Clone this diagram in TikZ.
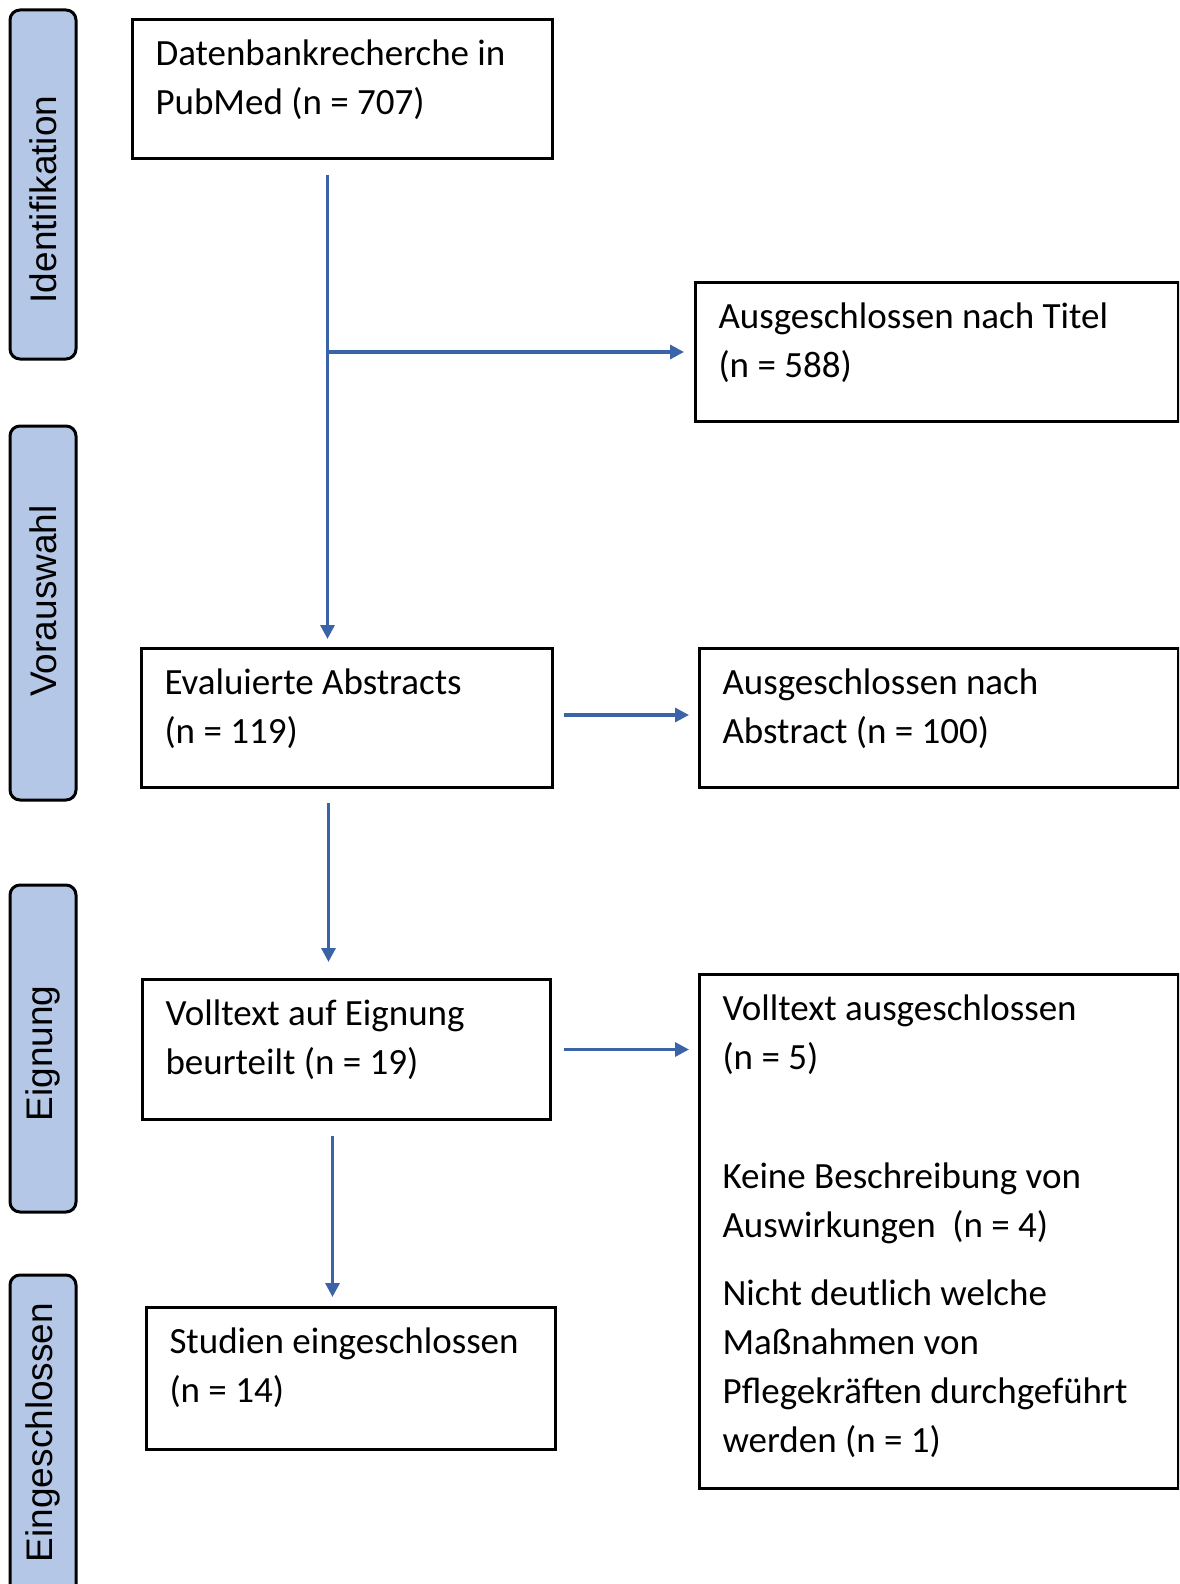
\documentclass[tikz,border=0pt]{standalone}
\usepackage{fontspec}
\setmainfont{Carlito}
\newfontfamily\sidefont{Liberation Sans}
\usetikzlibrary{positioning,arrows.meta}
\definecolor{phasefill}{RGB}{180,199,231}
\definecolor{flowblue}{RGB}{59,100,168}

% box text: width, height, lines
\newcommand{\boxtext}[3]{\parbox[t][#2][t]{#1}{\raggedright\leftskip=11.5pt\rule{0pt}{23pt}#3}}

\tikzset{
  stage/.style={draw, line width=1.5pt, inner sep=0pt, anchor=north west, font=\fontsize{18.5}{24.5}\selectfont},
  phase/.style={draw=black, fill=phasefill, line width=1.5pt, rounded corners=5pt, rotate=90, minimum height=33pt, inner sep=0pt, font=\sidefont\fontsize{18.5}{22}\selectfont},
  flow/.style={draw=flowblue, line width=1.6pt, -{Triangle[length=7pt,width=7pt]}}
}

\begin{document}
\begin{tikzpicture}[x=1pt, y=-1pt]
    \useasboundingbox (0,0) rectangle (589.5,792);
    \clip (0,0) rectangle (589.5,792);

    % phases
    \node[phase, minimum width=174.5pt] (ident) at (21.5,92.25) {Identifikation\hspace*{15pt}};
    \node[phase, minimum width=187pt] (vorausw) at (21.5,306.5) {\hspace*{12pt}Vorauswahl};
    \node[phase, minimum width=163.5pt] (eign) at (21.5,524.25) {Eignung\hspace*{5pt}};
    \node[phase, minimum width=162.5pt] (eingeschl) at (21.5,718.75) {\hspace*{5pt}Eingeschlossen};

    % left column
    \node[stage] (search) at (65.5,9) {\boxtext{210pt}{69.5pt}{Datenbankrecherche in\\PubMed (n = 707)}};
    \node[stage] (abstracts) at (70,323.5) {\boxtext{205.5pt}{69.5pt}{Evaluierte Abstracts\\(n = 119)}};
    \node[stage] (fulltext) at (70.5,489) {\boxtext{204pt}{70pt}{Volltext auf Eignung\\beurteilt (n = 19)}};
    \node[stage] (included) at (72.5,653) {\boxtext{204.5pt}{71pt}{Studien eingeschlossen\\(n = 14)}};

    % right column
    \node[stage] (extitle) at (347,140.5) {\boxtext{241.5pt}{69.5pt}{Ausgeschlossen nach Titel\\(n = 588)}};
    \node[stage] (exabstract) at (349,323.5) {\boxtext{239.5pt}{69.5pt}{Ausgeschlossen nach\\Abstract (n = 100)}};
    \node[stage] (exfulltext) at (349,486.5) {\boxtext{239.5pt}{257pt}{Volltext ausgeschlossen\\(n = 5)\\[35pt]Keine Beschreibung von\\Auswirkungen~~(n = 4)\\[9.5pt]Nicht deutlich welche\\Maßnahmen von\\Pflegekräften durchgeführt\\werden (n = 1)}};

    % flow
    \coordinate (split) at ([xshift=-7.5pt]search.south |- extitle.west);
    \draw[flow] ([xshift=-7.5pt,yshift=-7.5pt]search.south) -- ([xshift=-7.5pt,yshift=4pt]search.south |- abstracts.north);
    \draw[flow] (split) -- ([xshift=-5pt]extitle.west);
    \draw[flow] ([xshift=5pt,yshift=1.5pt]abstracts.east) -- ([xshift=-4.5pt,yshift=1.5pt]exabstract.west |- abstracts.east);
    \draw[flow] ([xshift=-9.25pt,yshift=-7pt]abstracts.south) -- ([xshift=-9.25pt,yshift=8pt]abstracts.south |- fulltext.north);
    \draw[flow] ([xshift=6pt]fulltext.east) -- ([xshift=-4.5pt]exfulltext.west |- fulltext.east);
    \draw[flow] ([xshift=-7pt,yshift=-7.5pt]fulltext.south) -- ([xshift=-7pt,yshift=4.5pt]fulltext.south |- included.north);
\end{tikzpicture}
\end{document}
